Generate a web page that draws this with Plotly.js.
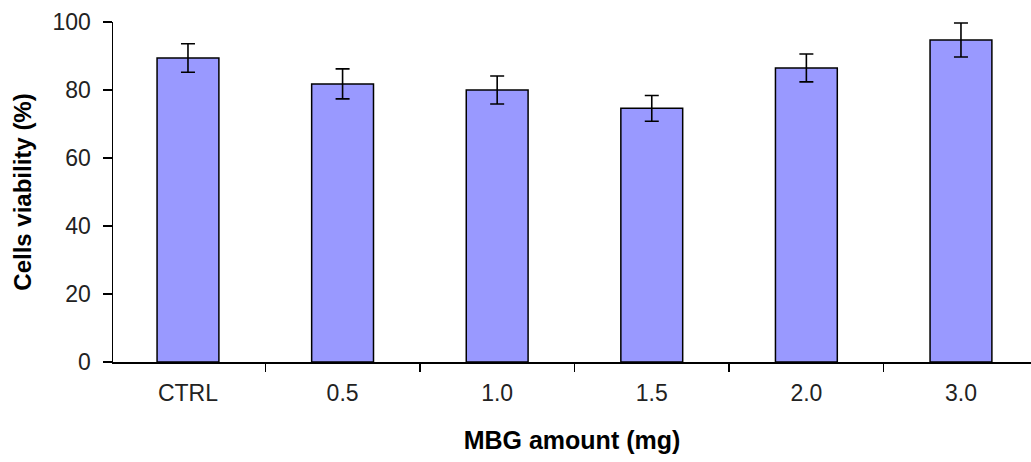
<!DOCTYPE html>
<html>
<head>
<meta charset="utf-8">
<script src="https://cdn.plot.ly/plotly-3.0.1.min.js"></script>
<style>html,body{margin:0;padding:0;background:#fff;}#chart{width:1031px;height:462px;}</style>
</head>
<body>
<div id="chart"></div>
<script>
const categories = ["CTRL", "0.5", "1.0", "1.5", "2.0", "3.0"];
const viability = [89.4, 81.8, 80.0, 74.6, 86.5, 94.7];
const errors = [4.2, 4.4, 4.1, 3.8, 4.1, 5.0];
const yTicks = [0, 20, 40, 60, 80, 100];

const trace = {
  type: "bar",
  x: categories,
  y: viability,
  marker: {color: "#9999ff", line: {color: "#000", width: 1.5}},
  error_y: {type: "data", array: errors, visible: true, color: "#000", thickness: 1.6, width: 7},
  hoverinfo: "none"
};

const layout = {
  width: 1031, height: 462,
  margin: {l: 113, r: 0, t: 22, b: 100},
  paper_bgcolor: "#fff", plot_bgcolor: "#fff",
  showlegend: false,
  bargap: 0.6,
  font: {family: "Liberation Sans, Arial, sans-serif", color: "#111"},
  xaxis: {
    type: "category",
    range: [-0.485, 5.453],
    tickson: "boundaries",
    ticks: "outside", ticklen: 8, tickwidth: 1.5, tickcolor: "#000",
    showline: true, linecolor: "#000", linewidth: 1.5,
    showgrid: false, zeroline: false,
    ticklabelstandoff: 10,
    tickfont: {size: 23, color: "#222"},
    title: {text: "MBG amount (mg)", font: {size: 25, color: "#000", weight: "bold"}, standoff: 26}
  },
  yaxis: {
    range: [0, 100],
    tickvals: yTicks,
    ticks: "outside", ticklen: 9, tickwidth: 1.5, tickcolor: "#000",
    showline: true, linecolor: "#000", linewidth: 1.5,
    showgrid: false, zeroline: false,
    ticklabelstandoff: 7,
    tickfont: {size: 23, color: "#222"},
    title: {text: "Cells viability (%)", font: {size: 24, color: "#000", weight: "bold"}, standoff: 14}
  }
};

Plotly.newPlot("chart", [trace], layout, {displayModeBar: false, staticPlot: true});
</script>
</body>
</html>
